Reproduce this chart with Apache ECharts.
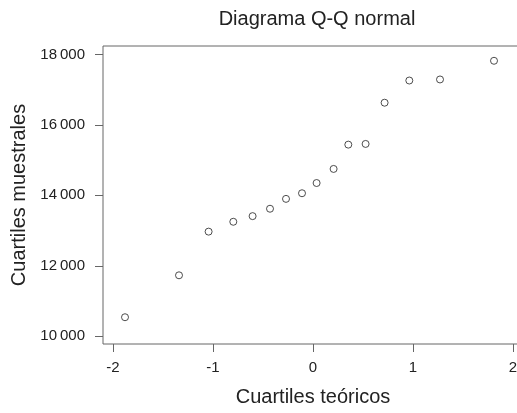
<!DOCTYPE html>
<html>
<head>
<meta charset="utf-8">
<script src="https://cdn.jsdelivr.net/npm/echarts@6/dist/echarts.min.js"></script>
<style>
  html, body { margin: 0; padding: 0; background: #fff; }
  #chart { width: 517px; height: 413px; }
</style>
</head>
<body>
<div id="chart"></div>
<script>
// cuantiles teoricos (eje x) y muestrales (eje y)
var teoricos = [-1.88, -1.34, -1.044, -0.797, -0.604, -0.43, -0.27, -0.11, 0.036, 0.206, 0.353, 0.526, 0.716, 0.963, 1.27, 1.81];
var muestrales = [10540, 11730, 12970, 13250, 13410, 13620, 13900, 14060, 14350, 14750, 15440, 15460, 16630, 17260, 17290, 17820];
var xTicks = [-2, -1, 0, 1, 2];
var yTicks = [10000, 12000, 14000, 16000, 18000];

var puntos = [];
for (var i = 0; i < teoricos.length; i++) {
	puntos.push([teoricos[i], muestrales[i]]);
}

var fuente = 'Liberation Sans, Arial, Helvetica, sans-serif';

function miles(v) {
	var s = String(Math.round(v));
	if (s.length > 3) s = s.slice(0, s.length - 3) + '\u2009' + s.slice(s.length - 3);
	return s;
}

var myChart = echarts.init(document.getElementById('chart'));
var option = {
	animation: false,
	title: {
		text: 'Diagrama Q-Q normal',
		left: 312,
		textAlign: 'center',
		top: 4,
		textStyle: { fontFamily: fuente, fontSize: 20, fontWeight: 'normal', color: '#222' }
	},
	grid: {
		left: 103,
		top: 46,
		right: -6,
		bottom: 69,
		outerBoundsMode: 'none',
		containLabel: false,
		show: true,
		borderColor: '#666',
		borderWidth: 1,
		backgroundColor: 'transparent'
	},
	xAxis: {
		type: 'value',
		min: -2.1,
		max: 2.1,
		name: 'Cuartiles teóricos',
		nameLocation: 'middle',
		nameGap: 43,
		nameTextStyle: { fontFamily: fuente, fontSize: 20, color: '#222' },
		axisLine: { show: false, onZero: false },
		splitLine: { show: false },
		axisTick: { show: true, inside: false, length: 8, customValues: xTicks, lineStyle: { color: '#666' } },
		axisLabel: { customValues: xTicks, margin: 16, fontFamily: fuente, fontSize: 15, color: '#222' }
	},
	yAxis: {
		type: 'value',
		min: 9780,
		max: 18240,
		name: 'Cuartiles muestrales',
		nameLocation: 'middle',
		nameRotate: 90,
		nameGap: 72,
		nameTextStyle: { fontFamily: fuente, fontSize: 20, color: '#222' },
		axisLine: { show: false, onZero: false },
		splitLine: { show: false },
		axisTick: { show: true, inside: false, length: 8, customValues: yTicks, lineStyle: { color: '#666' } },
		axisLabel: { customValues: yTicks, margin: 18, fontFamily: fuente, fontSize: 15, color: '#222', formatter: miles }
	},
	series: [
		{
			type: 'scatter',
			data: puntos,
			symbol: 'circle',
			symbolSize: 7,
			itemStyle: { color: '#fff', borderColor: '#222', borderWidth: 1 }
		}
	]
};
myChart.setOption(option);
</script>
</body>
</html>
